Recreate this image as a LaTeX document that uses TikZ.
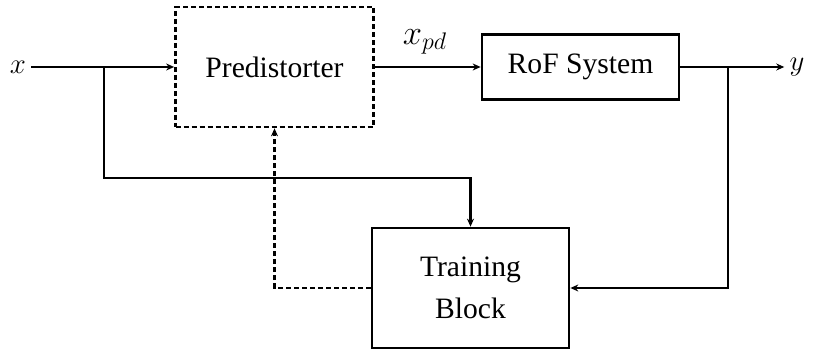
\documentclass[tikz,border=0pt]{standalone}
\usepackage{fontspec}
\setmainfont{Liberation Serif}
\usetikzlibrary{arrows.meta}
\begin{document}
\begin{tikzpicture}[x=0.5pt,y=-0.5pt, line width=1.35pt,
  blockbox/.style={draw, inner sep=0pt, align=center, font=\fontsize{14.8}{21}\selectfont},
  lbl/.style={inner sep=2pt, font=\fontsize{14.8}{18}\selectfont},
  arr/.style={-{Stealth[length=4pt,width=3.5pt]}},
  dsh/.style={dash pattern=on 2.5pt off 1.5pt}]
\useasboundingbox (0,0) rectangle (813,352);
\node[blockbox, dsh, minimum width=99pt, minimum height=60pt] (pre) at (274.5,67) {Predistorter};
\node[blockbox, minimum width=98.5pt, minimum height=32.5pt] (rof) at (580.5,67) {RoF System};
\node[blockbox, minimum width=98.5pt, minimum height=60pt] (tr) at (470.5,288) {Training\\Block};
\node[lbl] (xin) at (18,67) {$x$};
\node[lbl] (yout) at (797,67) {$y$};
\node[lbl, font=\fontsize{16.5}{20}\selectfont] (xpd) at (425,42) {$x_{pd}$};
\coordinate (b1) at (104,67);
\coordinate (c1) at (104,178);
\coordinate (b2) at (728,67);
\draw[arr] (xin.east) -- (pre.west);
\draw[arr] (pre.east) -- (rof.west);
\draw[arr] (rof.east) -- (yout.west);
\draw[arr] (b1) -- (c1) -| (tr.north);
\draw[arr] (b2) |- (tr.east);
\draw[arr, dsh] (tr.west) -| (pre.south);
\end{tikzpicture}
\end{document}
